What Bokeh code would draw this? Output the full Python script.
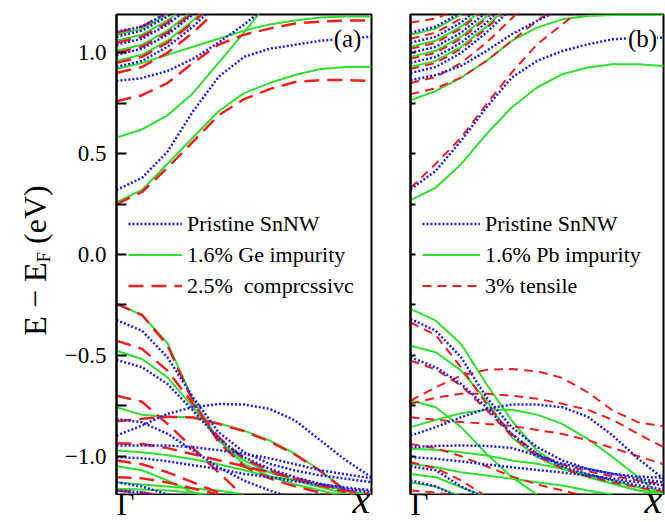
from math import pi
from bokeh.plotting import figure
from bokeh.layouts import row, column
from bokeh.models import FixedTicker, Label, Legend, LegendItem, Range1d
from bokeh.embed import file_html
from bokeh.resources import INLINE

# k-path grid (Gamma -> X), fraction of the path
K = [0.0, 0.1, 0.2, 0.3, 0.4, 0.5, 0.6, 0.7, 0.8, 0.9, 1.0]

Y_TICKS = [-1.0, -0.5, 0.0, 0.5, 1.0]
Y_TICK_LABELS = ["\u22121.0", "\u22120.5", "0.0", "0.5", "1.0"]
Y_MINOR = [-1.25, -0.75, -0.25, 0.25, 0.75, 1.25]
K_LABELS = ["\u0393", "x"]

LEGEND_A = ["Pristine SnNW", "1.6% Ge impurity", "2.5%  comprcssivc"]
LEGEND_B = ["Pristine SnNW", "1.6% Pb impurity", "3% tensile"]

# ---------------- panel (a) ----------------
A_PRISTINE_CB = [
    [0.32, 0.38, 0.51, 0.71, 0.88, 0.98, 1.02, 1.04, 1.06, 1.07, 1.08],
    [0.86, 0.875, 0.91, 0.97, 1.05, 1.14, 1.24],
    [0.93, 0.96, 1.03, 1.13, 1.25],
    [0.99, 1.02, 1.09, 1.19, 1.30],
    [1.04, 1.07, 1.14, 1.24],
    [1.08, 1.11, 1.18, 1.28],
    [1.105, 1.13, 1.20, 1.30],
]
A_PRISTINE_VB = [
    [-0.325, -0.378, -0.51, -0.708, -0.881, -0.98, -1.038, -1.071, -1.096, -1.112, -1.129],
    [-0.523, -0.559, -0.642, -0.774, -0.914, -1.005, -1.063, -1.104, -1.137, -1.162, -1.178],
    [-0.898, -0.848, -0.79, -0.757, -0.741, -0.744, -0.765, -0.823, -0.922, -1.021, -1.104],
    [-0.815, -0.832, -0.889, -0.972, -1.055, -1.121, -1.17, -1.21],
    [-0.947, -0.947, -0.947, -0.955, -0.97, -0.988, -1.01, -1.04, -1.07, -1.09, -1.11],
    [-1.005, -1.01, -1.025, -1.045, -1.063, -1.088, -1.104, -1.125, -1.14, -1.155, -1.17],
    [-1.129, -1.15, -1.19, -1.23],
    [-1.17, -1.18, -1.21],
]
A_IMPURITY_CB = [
    [0.26, 0.32, 0.45, 0.58, 0.71, 0.80, 0.85, 0.89, 0.92, 0.93, 0.93],
    [0.58, 0.62, 0.69, 0.80, 0.95, 1.10, 1.26],
    [0.92, 0.95, 0.99, 1.03, 1.07, 1.11, 1.14, 1.16, 1.175, 1.18, 1.18],
    [0.96, 0.99, 1.06, 1.16, 1.28],
    [1.01, 1.04, 1.11, 1.21, 1.30],
    [1.06, 1.09, 1.16, 1.26],
    [1.09, 1.12, 1.19, 1.29],
]
A_IMPURITY_VB = [
    [-0.245, -0.30, -0.44, -0.72, -0.92, -1.04, -1.10, -1.14, -1.17, -1.20],
    [-0.477, -0.518, -0.609, -0.757, -0.922, -1.021, -1.08, -1.12, -1.154, -1.187],
    [-0.757, -0.795, -0.804, -0.807, -0.837, -0.873, -0.922, -0.988, -1.071, -1.17, -1.25],
    [-0.972, -0.98, -0.995, -1.015, -1.04, -1.07, -1.10, -1.12, -1.145, -1.17, -1.19],
    [-1.05, -1.07, -1.12, -1.18, -1.22],
    [-1.13, -1.14, -1.15, -1.16, -1.17, -1.19],
    [-1.162, -1.165, -1.17, -1.18, -1.20],
]
A_STRAIN_CB = [
    [0.25, 0.31, 0.43, 0.56, 0.69, 0.77, 0.82, 0.855, 0.865, 0.865, 0.86],
    [0.76, 0.79, 0.85, 0.95, 1.04, 1.09, 1.12, 1.145, 1.155, 1.16, 1.16],
    [0.90, 0.93, 1.00, 1.10, 1.22],
    [0.95, 0.98, 1.05, 1.15, 1.27],
    [1.00, 1.03, 1.10, 1.20, 1.30],
    [1.05, 1.08, 1.15, 1.25],
    [1.10, 1.13, 1.20, 1.30],
]
A_STRAIN_VB = [
    [-0.245, -0.30, -0.45, -0.73, -0.93, -1.05, -1.11, -1.15, -1.18, -1.21],
    [-0.427, -0.468, -0.576, -0.741, -0.906, -1.013, -1.071, -1.112, -1.145, -1.178],
    [-0.827, -0.815, -0.804, -0.808, -0.84, -0.876, -0.926, -0.992, -1.075, -1.174, -1.25],
    [-0.70, -0.73, -0.84, -0.96, -1.08, -1.20],
    [-0.936, -0.94, -0.96, -0.99, -1.02, -1.05, -1.08, -1.11, -1.14, -1.17, -1.19],
    [-1.021, -1.04, -1.08, -1.13, -1.18, -1.22],
    [-1.104, -1.11, -1.13, -1.16, -1.19],
    [-1.17, -1.18, -1.20],
]

# ---------------- panel (b) ----------------
B_PRISTINE_CB = [
    [0.324, 0.415, 0.564, 0.729, 0.877, 0.96, 1.009, 1.042, 1.067, 1.075, 1.075],
    [0.864, 0.89, 0.935, 1.009, 1.092, 1.158, 1.22],
    [0.90, 0.93, 1.00, 1.10, 1.22],
    [0.95, 0.98, 1.05, 1.15, 1.27],
    [1.00, 1.03, 1.10, 1.20, 1.30],
    [1.05, 1.08, 1.15, 1.25],
    [1.10, 1.13, 1.20, 1.30],
]
B_PRISTINE_VB = [
    [-0.32, -0.378, -0.51, -0.708, -0.856, -0.955, -1.021, -1.063, -1.088, -1.112, -1.129],
    [-0.51, -0.559, -0.642, -0.757, -0.89, -0.99, -1.05, -1.09, -1.12, -1.145, -1.165],
    [-0.898, -0.856, -0.807, -0.765, -0.744, -0.744, -0.757, -0.804, -0.898, -1.013, -1.112],
    [-0.955, -0.949, -0.947, -0.949, -0.959, -0.997, -1.038, -1.063, -1.088, -1.101, -1.107],
    [-1.005, -1.013, -1.026, -1.041, -1.055, -1.068, -1.081, -1.096, -1.112, -1.129, -1.145],
    [-1.05, -1.07, -1.15, -1.21],
    [-1.12, -1.15, -1.21],
]
B_IMPURITY_CB = [
    [0.27, 0.332, 0.448, 0.597, 0.729, 0.828, 0.894, 0.927, 0.943, 0.943, 0.935],
    [0.765, 0.811, 0.877, 0.96, 1.059, 1.125, 1.166, 1.183, 1.188, 1.188, 1.188],
    [0.93, 0.96, 1.03, 1.13, 1.25],
    [0.98, 1.01, 1.08, 1.18, 1.30],
    [1.03, 1.06, 1.13, 1.23],
    [1.09, 1.12, 1.19, 1.29],
]
B_IMPURITY_VB = [
    [-0.27, -0.328, -0.444, -0.642, -0.823, -0.972, -1.055, -1.104, -1.137, -1.17, -1.187],
    [-0.452, -0.485, -0.576, -0.724, -0.906, -1.005, -1.063, -1.104, -1.137, -1.17, -1.19],
    [-0.856, -0.82, -0.787, -0.77, -0.77, -0.794, -0.84, -0.914, -1.005, -1.104, -1.203],
    [-0.724, -0.757, -0.856, -0.988, -1.104, -1.19],
    [-0.963, -0.968, -0.98, -0.997, -1.021, -1.038, -1.063, -1.088, -1.121, -1.154, -1.187],
    [-1.038, -1.055, -1.08, -1.096, -1.112, -1.129, -1.145, -1.17, -1.19],
    [-1.088, -1.104, -1.154, -1.203],
    [-1.13, -1.15, -1.20],
]
B_STRAIN_CB = [
    [0.33, 0.45, 0.58, 0.745, 0.902, 1.042, 1.141, 1.24],
    [0.795, 0.824, 0.877, 0.96, 1.059, 1.158, 1.25],
    [0.85, 0.88, 0.95, 1.05, 1.17, 1.30],
    [0.92, 0.95, 1.02, 1.12, 1.24],
    [0.97, 1.00, 1.07, 1.17, 1.29],
    [1.02, 1.05, 1.12, 1.22],
    [1.07, 1.10, 1.17, 1.27],
    [1.15, 1.17, 1.22],
]
B_STRAIN_VB = [
    [-0.336, -0.40, -0.56, -0.74, -0.89, -0.988, -1.04, -1.075, -1.10, -1.12, -1.14],
    [-0.526, -0.57, -0.65, -0.77, -0.90, -1.00, -1.06, -1.10, -1.13, -1.155, -1.175],
    [-0.724, -0.658, -0.60, -0.572, -0.568, -0.579, -0.612, -0.683, -0.774, -0.832, -0.852],
    [-0.74, -0.71, -0.69, -0.69, -0.70, -0.715, -0.74, -0.77, -0.82, -0.89, -0.955],
    [-0.807, -0.82, -0.83, -0.84, -0.85, -0.87, -0.89, -0.92, -0.96, -1.00, -1.04],
    [-0.94, -0.96, -1.00, -1.05, -1.10, -1.14, -1.17, -1.20],
    [-1.03, -1.06, -1.12, -1.20],
    [-1.17, -1.18, -1.20],
]

BLUE = "#1c1cf0"
GREEN = "#2fe02f"
RED = "#f01e1e"
SERIF = "Liberation Serif"
Y_RANGE = (-1.19, 1.19)

TOP, FRAME_H = 14, 480
MAIN_H = TOP + FRAME_H + 1          # 495
OVERLAP = 22                        # the k-label strip slides up under the frame edge
BOTTOM_H = 522 - MAIN_H + OVERLAP   # 49


def band_xy(bands):
    xs = [K[:len(b)] for b in bands]
    return xs, [list(b) for b in bands]


def bare(width, height, xr, yr, bl=0, br=0, bt=0, bb=0):
    f = figure(width=width, height=height, x_range=Range1d(*xr), y_range=Range1d(*yr),
               x_axis_location=None, y_axis_location=None, toolbar_location=None,
               output_backend="svg", min_border_left=bl, min_border_right=br,
               min_border_top=bt, min_border_bottom=bb)
    f.grid.visible = False
    f.outline_line_color = None
    f.background_fill_color = "white"
    f.border_fill_color = "white"
    return f


def make_panel(width, bl, br, show_labels, tick_len):
    p = figure(width=width, height=MAIN_H, x_range=Range1d(0, 1), y_range=Range1d(*Y_RANGE),
               x_axis_location=None, toolbar_location=None, output_backend="svg",
               min_border_left=bl, min_border_right=br, min_border_top=TOP, min_border_bottom=1)
    p.grid.visible = False
    p.outline_line_color = "black"
    p.outline_line_width = 2
    p.outline_line_alpha = 1
    p.background_fill_color = "white"
    p.border_fill_color = "white"
    ax = p.yaxis[0]
    ax.ticker = FixedTicker(ticks=Y_TICKS, minor_ticks=Y_MINOR)
    ax.axis_line_color = "black"
    ax.axis_line_width = 2
    ax.major_tick_in = tick_len
    ax.major_tick_out = 0
    ax.minor_tick_in = tick_len
    ax.minor_tick_out = 0
    ax.major_tick_line_width = 2
    ax.minor_tick_line_width = 2
    ax.major_label_text_font = SERIF
    ax.major_label_text_font_size = "23px"
    ax.major_label_text_color = "black"
    if show_labels:
        ax.major_label_overrides = dict(zip(Y_TICKS, Y_TICK_LABELS))
        ax.major_label_standoff = 10
    else:
        ax.major_label_overrides = {t: "" for t in Y_TICKS}
        ax.major_label_standoff = 0
    return p


def add_series(p, pristine, impurity, strain, red_dash, red_width, labels, leg_loc, glyph_w):
    gx, gy = band_xy(impurity)
    rx, ry = band_xy(strain)
    bx, by = band_xy(pristine)
    rg = p.multi_line(gx, gy, line_color=GREEN, line_width=2)
    rr = p.multi_line(rx, ry, line_color=RED, line_width=red_width, line_dash=red_dash)
    rb = p.multi_line(bx, by, line_color=BLUE, line_width=2.5, line_dash="2 2")
    legend = Legend(items=[LegendItem(label=labels[0], renderers=[rb]),
                           LegendItem(label=labels[1], renderers=[rg]),
                           LegendItem(label=labels[2], renderers=[rr])],
                    location=leg_loc)
    legend.label_text_font = SERIF
    legend.label_text_font_size = "22px"
    legend.label_text_color = "black"
    legend.glyph_width = glyph_w
    legend.glyph_height = 25
    legend.label_height = 25
    legend.spacing = 5
    legend.padding = 0
    legend.margin = 0
    legend.label_standoff = 5
    legend.border_line_alpha = 0
    legend.background_fill_alpha = 0
    p.add_layout(legend)


# widths: y-title strip 60, panel (a) 330 (frame 116-371), panel (b) 275 (frame 410-663)
YLAB_W = 60
A_W, A_BL, A_BR = 330, 56, 19
B_W, B_BL, B_BR = 275, 20, 2

pa = make_panel(A_W, A_BL, A_BR, True, 10)
add_series(pa, A_PRISTINE_CB + A_PRISTINE_VB, A_IMPURITY_CB + A_IMPURITY_VB,
           A_STRAIN_CB + A_STRAIN_VB, "15 8", 2.5, LEGEND_A, (12, 195.5), 54)

pb = make_panel(B_W, B_BL, B_BR, False, 5)
add_series(pb, B_PRISTINE_CB + B_PRISTINE_VB, B_IMPURITY_CB + B_IMPURITY_VB,
           B_STRAIN_CB + B_STRAIN_VB, "9 6", 2, LEGEND_B, (12, 195.5), 58)

for p, tag, tx in ((pa, "(a)", 0.906), (pb, "(b)", 0.917)):
    p.add_layout(Label(x=tx, y=1.071, text=tag, text_font=SERIF, text_font_size="25px",
                       text_align="center", text_baseline="middle", text_color="black",
                       background_fill_color="white"))

# k-point labels below each panel (transparent strip, slid up under the frame edge)
bottoms = []
for w, bl, br in ((A_W, A_BL, A_BR), (B_W, B_BL, B_BR)):
    f = bare(w, BOTTOM_H, (0, 1), (0, BOTTOM_H), bl=bl, br=br)
    f.background_fill_alpha = 0
    f.border_fill_alpha = 0
    f.styles = {"margin-top": f"-{OVERLAP}px"}
    f.add_layout(Label(x=0.0, y=0.5, text=K_LABELS[0], text_font=SERIF, text_font_size="31px",
                       text_align="left", text_baseline="bottom", text_color="black"))
    f.add_layout(Label(x=0.995, y=0.5, text=K_LABELS[1], text_font=SERIF, text_font_size="40px",
                       text_font_style="italic", text_align="right", text_baseline="bottom",
                       text_color="black"))
    bottoms.append(f)

# y-axis title: E - E_F (eV), pieces for the subscript
ylab = bare(YLAB_W, 522, (0, YLAB_W), Y_RANGE, bt=TOP, bb=522 - TOP - FRAME_H)
ylab.add_layout(Label(x=34, y=-0.221, text="E \u2212 E", angle=pi / 2, text_font=SERIF,
                      text_font_size="32px", text_align="center", text_baseline="middle",
                      text_color="black"))
ylab.add_layout(Label(x=43, y=-0.013, text="F", angle=pi / 2, text_font=SERIF,
                      text_font_size="19px", text_align="center", text_baseline="middle",
                      text_color="black"))
ylab.add_layout(Label(x=34, y=0.198, text="(eV)", angle=pi / 2, text_font=SERIF,
                      text_font_size="32px", text_align="center", text_baseline="middle",
                      text_color="black"))

layout = row(ylab, column(pa, bottoms[0]), column(pb, bottoms[1]))
open("out.html", "w").write(file_html(layout, INLINE))
